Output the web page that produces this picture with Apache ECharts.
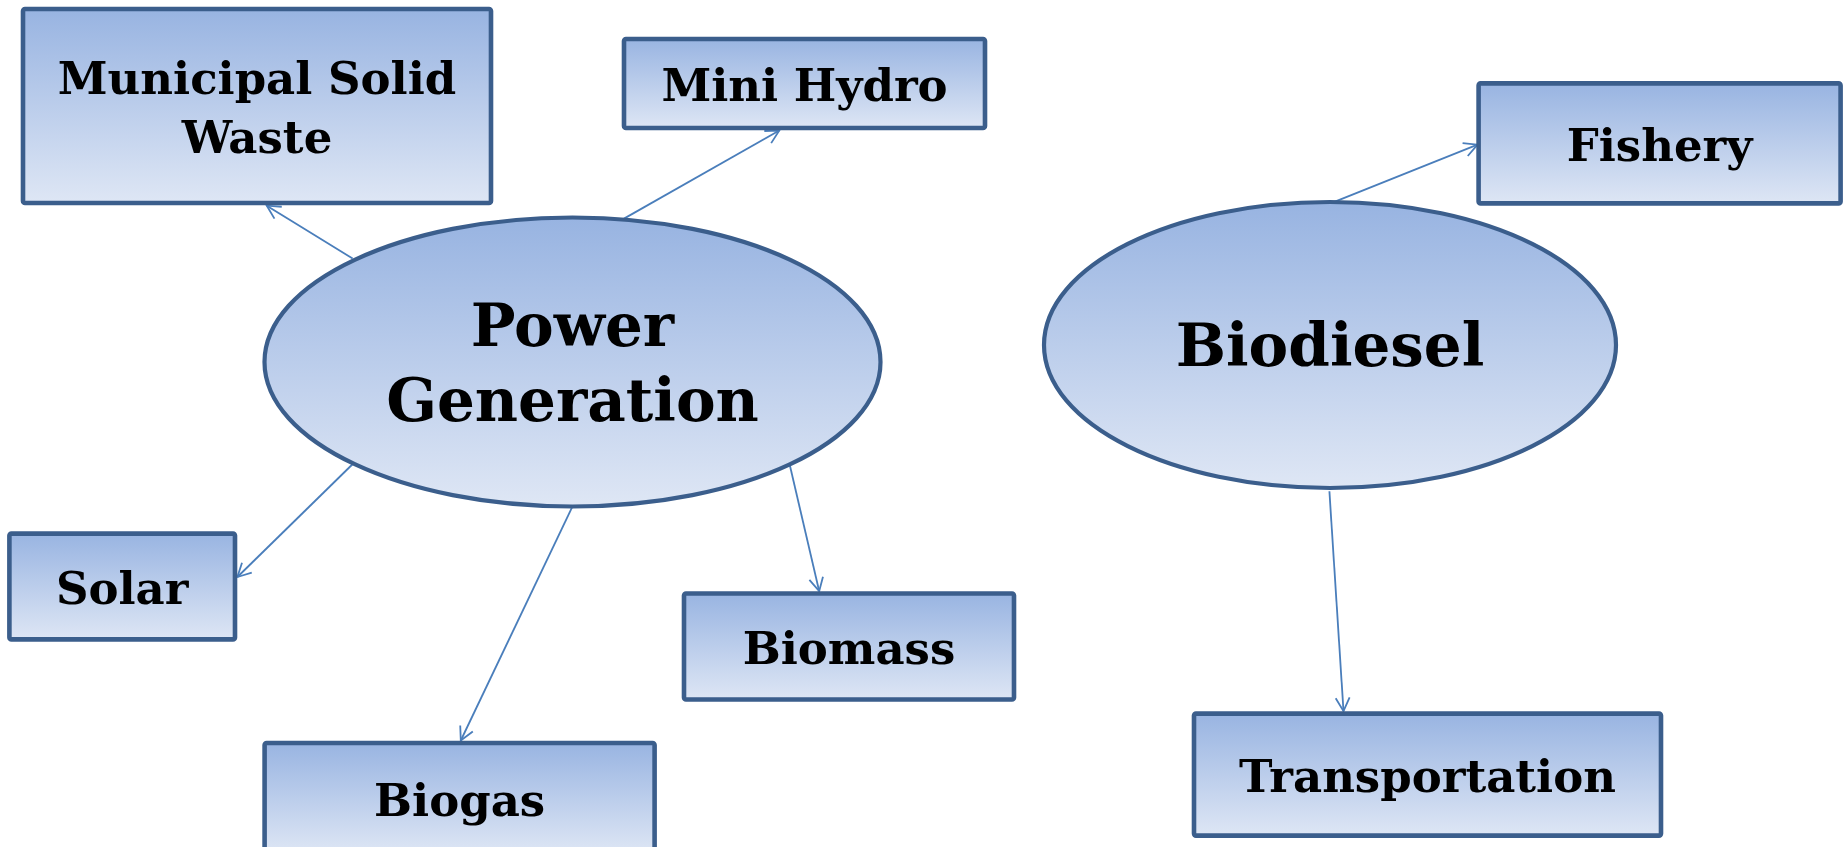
<!DOCTYPE html>
<html>
<head>
<meta charset="utf-8">
<script src="https://cdn.jsdelivr.net/npm/echarts@6/dist/echarts.min.js"></script>
<style>
html,body{margin:0;padding:0;background:#fff;}
#chart{width:1843px;height:847px;}
</style>
</head>
<body>
<div id="chart"></div>
<script>
// ---- Data (diagram units) ----
const nodeLabels = ['Municipal Solid\nWaste', 'Mini Hydro', 'Power\nGeneration', 'Biodiesel', 'Fishery', 'Solar', 'Biomass', 'Biogas', 'Transportation'];
const nodeKinds  = ['box', 'box', 'hub', 'hub', 'box', 'box', 'box', 'box', 'box'];
const nodeCenterX = [257, 804.5, 572.5, 1330, 1659.6, 122.2, 849, 459.6, 1427.5];
const nodeCenterY = [106, 83.5, 362, 345, 143.4, 586.5, 646.5, 798, 774.6];
const nodeWidth   = [468, 361, 616, 572, 362, 225.6, 330, 390, 467];
const nodeHeight  = [194, 89, 289, 286, 120, 105.8, 106, 110, 122];

// edges: from hub boundary to target box
const edgeFrom = ['Power Generation', 'Power Generation', 'Power Generation', 'Power Generation', 'Power Generation', 'Biodiesel', 'Biodiesel'];
const edgeTo   = ['Municipal Solid Waste', 'Mini Hydro', 'Solar', 'Biogas', 'Biomass', 'Fishery', 'Transportation'];
const edgeX1 = [352.6, 624, 353.8, 572.4, 789.9, 1330.6, 1329.4];
const edgeY1 = [258.6, 218.6, 463, 506.6, 465.5, 203.3, 491.3];
const edgeX2 = [266.8, 779.3, 237.4, 460.8, 819.2, 1477.5, 1343.5];
const edgeY2 = [205.7, 130.5, 577, 740.5, 591.2, 144.6, 711.1];

// ---- Build ----
const nodeData = nodeLabels.map((n, i) => [nodeCenterX[i], nodeCenterY[i], nodeWidth[i], nodeHeight[i]]);
const edgeData = edgeFrom.map((n, i) => [edgeX1[i], edgeY1[i], edgeX2[i], edgeY2[i]]);

const BORDER = '#3B5E8C';
const ARROW = '#4A7EBB';
function grad() {
  return new echarts.graphic.LinearGradient(0, 0, 0, 1, [
    {offset: 0, color: '#97B3E1'},
    {offset: 1, color: '#DFE7F5'}
  ]);
}

const chart = echarts.init(document.getElementById('chart'), null, {renderer: 'canvas'});
chart.setOption({
  animation: false,
  grid: {left: 0, right: 0, top: 0, bottom: 0},
  xAxis: {type: 'value', min: 0, max: 1843, show: false},
  yAxis: {type: 'value', min: 0, max: 847, inverse: true, show: false},
  series: [
    {
      type: 'custom',
      coordinateSystem: 'cartesian2d',
      clip: false,
      z: 1,
      data: edgeData,
      renderItem: function (params, api) {
        const p1 = api.coord([api.value(0), api.value(1)]);
        const p2 = api.coord([api.value(2), api.value(3)]);
        const ang = Math.atan2(p2[1] - p1[1], p2[0] - p1[0]);
        const L = 15, a = Math.PI / 6.5;
        const h1 = [p2[0] - L * Math.cos(ang - a), p2[1] - L * Math.sin(ang - a)];
        const h2 = [p2[0] - L * Math.cos(ang + a), p2[1] - L * Math.sin(ang + a)];
        return {
          type: 'group',
          children: [
            {type: 'line', shape: {x1: p1[0], y1: p1[1], x2: p2[0], y2: p2[1]},
             style: {stroke: ARROW, lineWidth: 1.8}},
            {type: 'polyline', shape: {points: [h1, p2, h2]},
             style: {stroke: ARROW, lineWidth: 1.8, fill: null}}
          ]
        };
      }
    },
    {
      type: 'custom',
      coordinateSystem: 'cartesian2d',
      clip: false,
      z: 2,
      data: nodeData,
      renderItem: function (params, api) {
        const i = params.dataIndex;
        const c = api.coord([api.value(0), api.value(1)]);
        const s = api.size([api.value(2), api.value(3)]);
        const w = s[0], h = s[1];
        const hub = nodeKinds[i] === 'hub';
        let shape;
        if (hub) {
          shape = {type: 'ellipse', shape: {cx: c[0], cy: c[1], rx: w / 2, ry: h / 2},
                   style: {fill: grad(), stroke: BORDER, lineWidth: 4.2}};
        } else {
          shape = {type: 'rect', shape: {x: c[0] - w / 2, y: c[1] - h / 2, width: w, height: h, r: 2},
                   style: {fill: grad(), stroke: BORDER, lineWidth: 4.6}};
        }
        const fs = hub ? 59.5 : 45;
        return {
          type: 'group',
          children: [
            shape,
            {type: 'text', x: c[0], y: c[1] + 6,
             style: {text: nodeLabels[i], align: 'center', verticalAlign: 'middle',
                     font: 'bold ' + fs + 'px "DejaVu Serif"', fill: '#000',
                     lineHeight: hub ? 75 : 59}}
          ]
        };
      }
    }
  ]
});
</script>
</body>
</html>
